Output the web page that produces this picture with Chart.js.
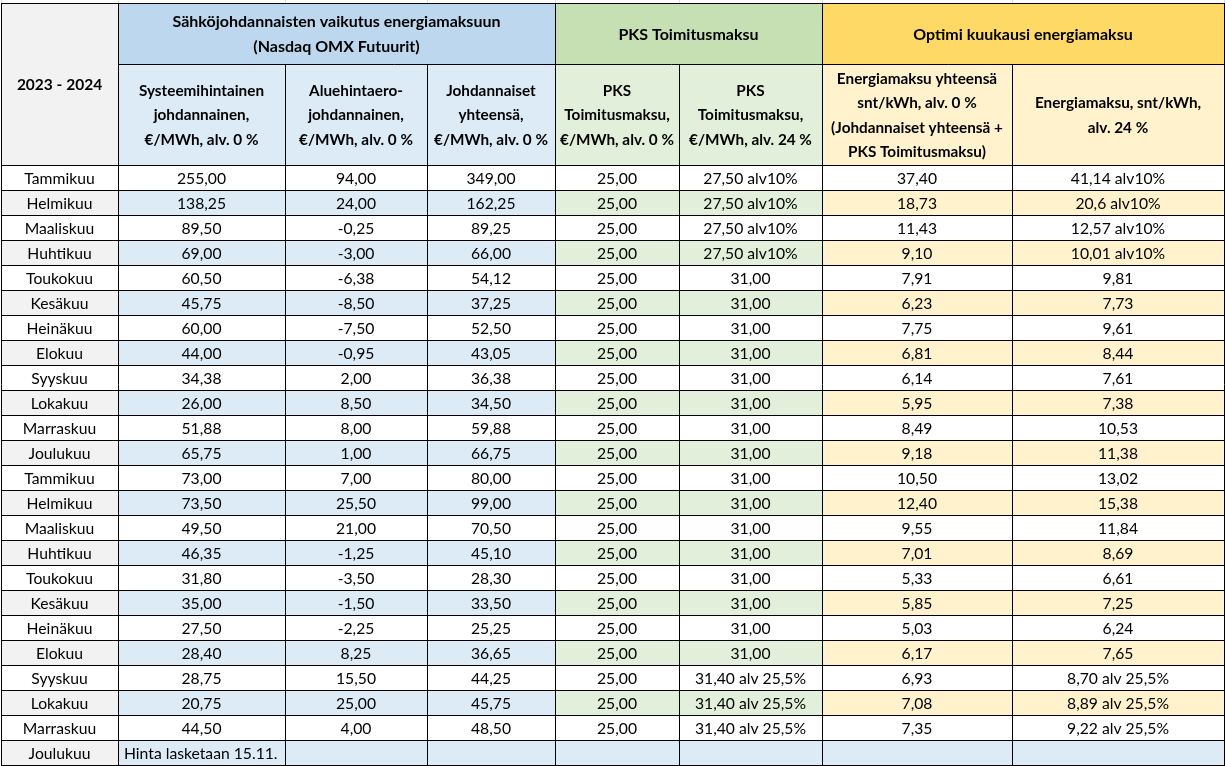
<!DOCTYPE html>
<html><head><meta charset="utf-8">
<script src="https://cdn.jsdelivr.net/npm/chart.js@4/dist/chart.umd.min.js"></script>
<style>html,body{margin:0;padding:0;background:#fff}canvas{display:block}</style>
</head><body>
<canvas id="c" width="1225" height="766"></canvas>
<script>
// ---------- DATA ----------
const yearLabel = '2023 - 2024';
const groupHeaders = [
  ['Sähköjohdannaisten vaikutus energiamaksuun', '(Nasdaq OMX Futuurit)'],
  ['PKS Toimitusmaksu'],
  ['Optimi kuukausi energiamaksu']
];
const columnHeaders = [
  ['Systeemihintainen', 'johdannainen,', '€/MWh, alv. 0 %'],
  ['Aluehintaero-', 'johdannainen,', '€/MWh, alv. 0 %'],
  ['Johdannaiset', 'yhteensä,', '€/MWh, alv. 0 %'],
  ['PKS', 'Toimitusmaksu,', '€/MWh, alv. 0 %'],
  ['PKS', 'Toimitusmaksu,', '€/MWh, alv. 24 %'],
  ['Energiamaksu yhteensä', 'snt/kWh, alv. 0 %', '(Johdannaiset yhteensä +', 'PKS Toimitusmaksu)'],
  ['Energiamaksu, snt/kWh,', 'alv. 24 %']
];
const months = ['Tammikuu','Helmikuu','Maaliskuu','Huhtikuu','Toukokuu','Kesäkuu','Heinäkuu','Elokuu','Syyskuu','Lokakuu','Marraskuu','Joulukuu',
                'Tammikuu','Helmikuu','Maaliskuu','Huhtikuu','Toukokuu','Kesäkuu','Heinäkuu','Elokuu','Syyskuu','Lokakuu','Marraskuu','Joulukuu'];
const systeemihinta = ['255,00','138,25','89,50','69,00','60,50','45,75','60,00','44,00','34,38','26,00','51,88','65,75',
                       '73,00','73,50','49,50','46,35','31,80','35,00','27,50','28,40','28,75','20,75','44,50','Hinta lasketaan 15.11.'];
const aluehintaero = ['94,00','24,00','-0,25','-3,00','-6,38','-8,50','-7,50','-0,95','2,00','8,50','8,00','1,00',
                      '7,00','25,50','21,00','-1,25','-3,50','-1,50','-2,25','8,25','15,50','25,00','4,00',''];
const johdannaisetYht = ['349,00','162,25','89,25','66,00','54,12','37,25','52,50','43,05','36,38','34,50','59,88','66,75',
                         '80,00','99,00','70,50','45,10','28,30','33,50','25,25','36,65','44,25','45,75','48,50',''];
const pksAlv0 = ['25,00','25,00','25,00','25,00','25,00','25,00','25,00','25,00','25,00','25,00','25,00','25,00',
                 '25,00','25,00','25,00','25,00','25,00','25,00','25,00','25,00','25,00','25,00','25,00',''];
const pksAlv = ['27,50 alv10%','27,50 alv10%','27,50 alv10%','27,50 alv10%','31,00','31,00','31,00','31,00','31,00','31,00','31,00','31,00',
                '31,00','31,00','31,00','31,00','31,00','31,00','31,00','31,00','31,40 alv 25,5%','31,40 alv 25,5%','31,40 alv 25,5%',''];
const energiaAlv0 = ['37,40','18,73','11,43','9,10','7,91','6,23','7,75','6,81','6,14','5,95','8,49','9,18',
                     '10,50','12,40','9,55','7,01','5,33','5,85','5,03','6,17','6,93','7,08','7,35',''];
const energiaAlv = ['41,14 alv10%','20,6 alv10%','12,57 alv10%','10,01 alv10%','9,81','7,73','9,61','8,44','7,61','7,38','10,53','11,38',
                    '13,02','15,38','11,84','8,69','6,61','7,25','6,24','7,65','8,70 alv 25,5%','8,89 alv 25,5%','9,22 alv 25,5%',''];
const columns = [months, systeemihinta, aluehintaero, johdannaisetYht, pksAlv0, pksAlv, energiaAlv0, energiaAlv];

// ---------- LAYOUT (in scale units = px) ----------
const colEdges = [1, 118, 285, 427, 555, 679, 822, 1012, 1224];
const headTop = 3, headMid = 64, headBottom = 165, rowH = 25;
const groupSpans = [[1, 4], [4, 6], [6, 8]];
const groupColor = ['#bdd7ee', '#c6e0b4', '#ffd966'];
const lightColor = ['#ddebf7', '#e2efda', '#fff2cc'];
const grayCol = '#f2f2f2';
const FONT = 'Lato, "Open Sans", sans-serif';

function groupOf(c) { return c <= 3 ? 0 : (c <= 5 ? 1 : 2); }

const tablePlugin = {
  id: 'tablePlugin',
  afterDraw(chart) {
    const ctx = chart.ctx, xs = chart.scales.x, ys = chart.scales.y;
    const X = v => xs.getPixelForValue(v), Y = v => ys.getPixelForValue(v);
    const fill = (x0, x1, y0, y1, col) => { ctx.fillStyle = col; ctx.fillRect(X(x0), Y(y0), X(x1) - X(x0), Y(y1) - Y(y0)); };
    const crisp = p => Math.round(p) + 0.5;
    const hline = (x0, x1, y, col) => { ctx.strokeStyle = col; ctx.beginPath(); ctx.moveTo(X(x0), crisp(Y(y))); ctx.lineTo(X(x1) + 1, crisp(Y(y))); ctx.stroke(); };
    const vline = (x, y0, y1, col) => { ctx.strokeStyle = col; ctx.beginPath(); ctx.moveTo(crisp(X(x)), Y(y0)); ctx.lineTo(crisp(X(x)), Y(y1) + 1); ctx.stroke(); };
    const nRows = months.length;
    const rowTop = i => headBottom + i * rowH;
    ctx.save();
    ctx.lineWidth = 1;
    // faint sheet gridlines above the table
    colEdges.forEach(e => vline(e, 0, headTop, '#d9d9d9'));
    // header fills
    fill(colEdges[0], colEdges[1], headTop, headBottom, grayCol);
    groupSpans.forEach((g, k) => {
      fill(colEdges[g[0]], colEdges[g[1]], headTop, headMid, groupColor[k]);
      fill(colEdges[g[0]], colEdges[g[1]], headMid, headBottom, lightColor[k]);
    });
    // body fills
    for (let i = 0; i < nRows; i++) {
      if (i % 2 === 1) {
        const last = i === nRows - 1;
        fill(colEdges[0], colEdges[1], rowTop(i), rowTop(i + 1), grayCol);
        for (let c = 1; c < 8; c++) fill(colEdges[c], colEdges[c + 1], rowTop(i), rowTop(i + 1), last ? lightColor[0] : lightColor[groupOf(c)]);
      }
    }
    // borders
    const bc = '#000';
    const bottom = rowTop(nRows);
    hline(colEdges[0], colEdges[8], headTop, bc);
    hline(colEdges[1], colEdges[8], headMid, bc);
    for (let i = 0; i <= nRows; i++) hline(colEdges[0], colEdges[8], rowTop(i), bc);
    colEdges.forEach((e, c) => {
      const inGroup = [2, 3, 5, 7].includes(c);
      vline(e, inGroup ? headMid : headTop, bottom, bc);
    });
    // header text
    ctx.fillStyle = '#000';
    ctx.textAlign = 'center';
    ctx.textBaseline = 'middle';
    const lh = 24.5;
    const drawLines = (lines, cx, cy) => {
      const n = lines.length;
      lines.forEach((t, k) => ctx.fillText(t, cx, cy + (k - (n - 1) / 2) * lh));
    };
    ctx.font = 'bold 15.5px ' + FONT;
    drawLines([yearLabel], X((colEdges[0] + colEdges[1]) / 2), Y((headTop + headBottom) / 2) + 1);
    ctx.font = 'bold 16px ' + FONT;
    groupSpans.forEach((g, k) => drawLines(groupHeaders[k], X((colEdges[g[0]] + colEdges[g[1]]) / 2), Y((headTop + headMid) / 2) + 1));
    ctx.font = 'bold 15.3px ' + FONT;
    columnHeaders.forEach((lines, k) => drawLines(lines, X((colEdges[k + 1] + colEdges[k + 2]) / 2), Y((headMid + headBottom) / 2) + 1));
    // body text
    ctx.font = '15.7px ' + FONT;
    for (let i = 0; i < nRows; i++) {
      const cy = Y(rowTop(i) + rowH / 2) + 1;
      columns.forEach((arr, c) => {
        const t = arr[i];
        if (!t) return;
        if (c === 1 && i === nRows - 1) {
          ctx.textAlign = 'left';
          ctx.fillText(t, X(colEdges[1] + 6), cy);
          ctx.textAlign = 'center';
        } else {
          ctx.fillText(t, X((colEdges[c] + colEdges[c + 1]) / 2), cy);
        }
      });
    }
    ctx.restore();
  }
};

document.fonts.load('16px Lato').then(() => document.fonts.load('bold 16px Lato')).catch(() => {}).then(() => {
  new Chart(document.getElementById('c'), {
    type: 'scatter',
    data: { datasets: [{ data: [], pointRadius: 0 }] },
    options: {
      responsive: false,
      animation: false,
      devicePixelRatio: 1,
      layout: { padding: 0 },
      plugins: { legend: { display: false }, tooltip: { enabled: false } },
      scales: {
        x: { type: 'linear', min: 0, max: 1225, display: false },
        y: { type: 'linear', min: 0, max: 766, reverse: true, display: false }
      }
    },
    plugins: [tablePlugin]
  });
});
</script>
</body></html>
